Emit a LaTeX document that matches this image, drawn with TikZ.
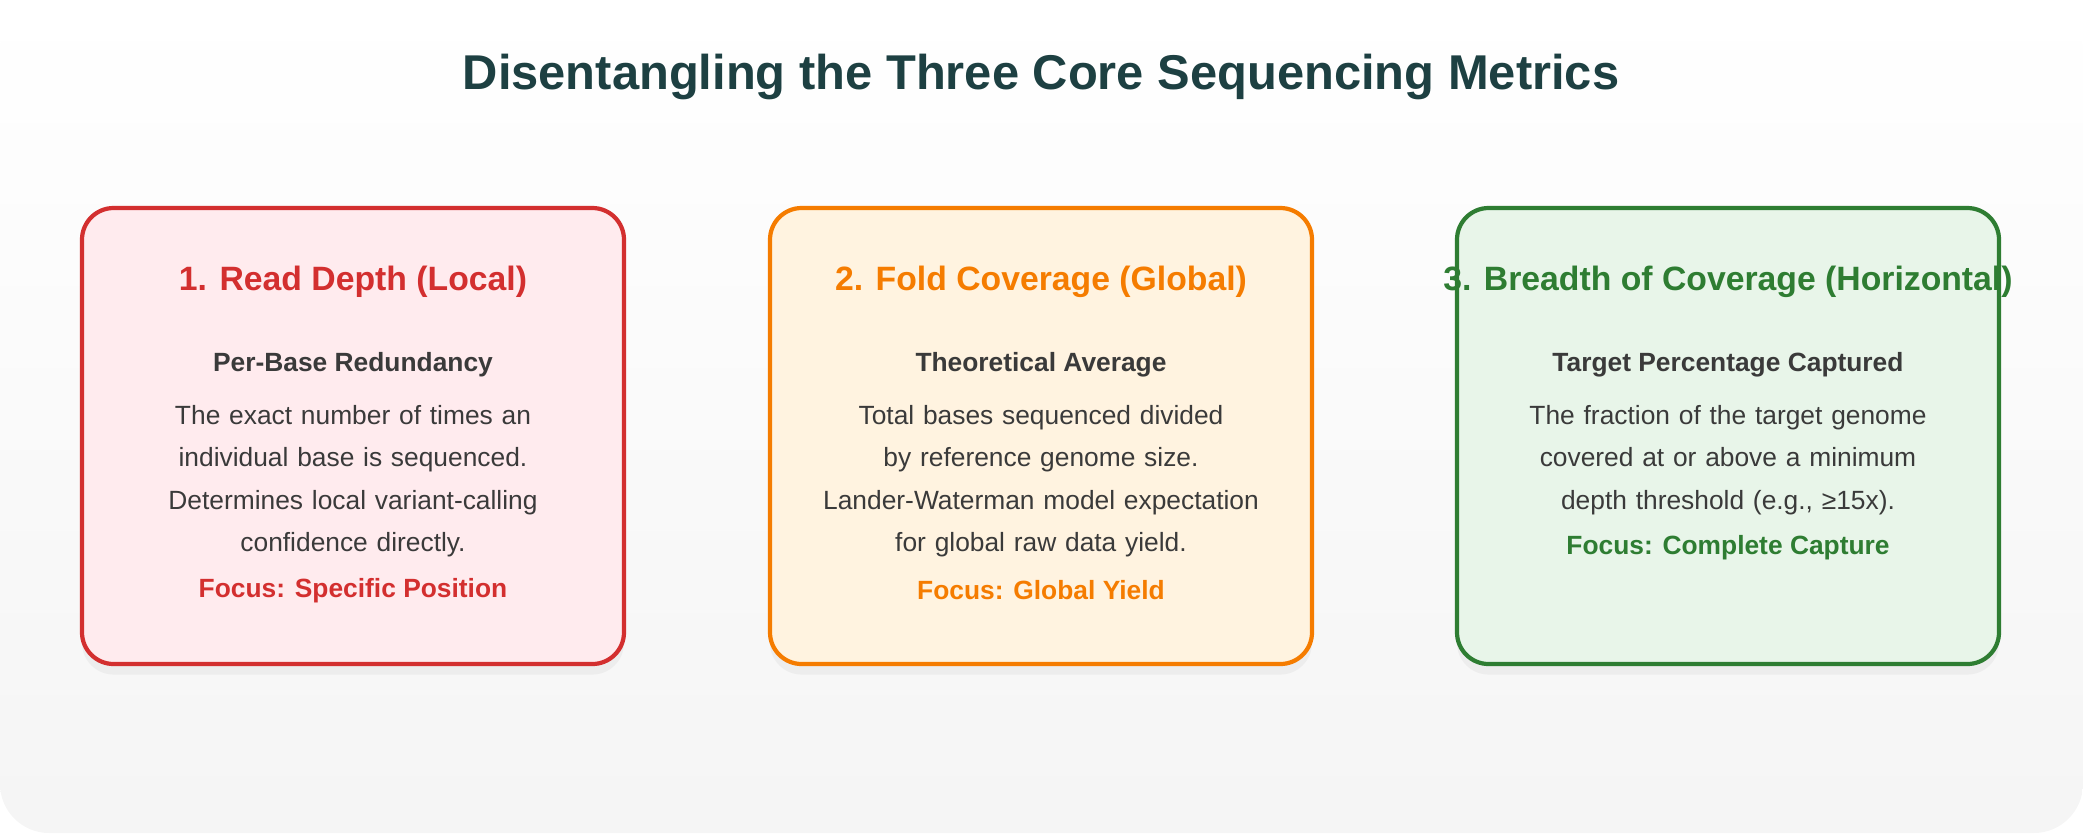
\documentclass[tikz,border=0pt]{standalone}
\usepackage{fontspec}
\setmainfont{Liberation Sans}
\usetikzlibrary{positioning,shadows}

\definecolor{titlecol}{HTML}{1D4042}
\definecolor{bodycol}{HTML}{3A3A3A}
\definecolor{redline}{HTML}{D32F2F}
\definecolor{redfill}{HTML}{FFEBEE}
\definecolor{orline}{HTML}{F57C00}
\definecolor{orfill}{HTML}{FFF3E0}
\definecolor{grline}{HTML}{2E7D32}
\definecolor{grfill}{HTML}{E8F5E9}

\tikzset{
  metricbox/.style={draw=#1, line width=1.2pt, rounded corners=9pt,
    minimum width=5.42cm, minimum height=4.56cm, drop shadow={opacity=0.08, shadow xshift=0pt, shadow yshift=-3pt}},
  boxhead/.style={font=\bfseries\fontsize{9.6}{11}\selectfont, text=#1},
  subhead/.style={font=\bfseries\fontsize{7.5}{9}\selectfont, text=bodycol},
  bodytext/.style={font=\fontsize{7.5}{12.1}\selectfont, text=bodycol, align=center, text width=5.3cm},
  focus/.style={font=\bfseries\fontsize{7.5}{9}\selectfont, text=#1}
}

\begin{document}
\begin{tikzpicture}[x=1cm,y=-1cm]
    % Background
    \useasboundingbox (0,0) rectangle (20.83,8.33);
    \shade[top color=white, bottom color=gray!8, rounded corners=14pt] (0,0) rectangle (20.83,8.33);

    % Title
    \node[font=\bfseries\fontsize{13.9}{16}\selectfont, text=titlecol] (title) at (10.41,0.77) {Disentangling the Three Core Sequencing Metrics};

    % Boxes
    \node[metricbox=redline, fill=redfill] (depth) at (3.53,4.36) {};
    \node[metricbox=orline, fill=orfill] (fold) at (10.41,4.36) {};
    \node[metricbox=grline, fill=grfill] (breadth) at (17.28,4.36) {};

    % Box 1
    \node[boxhead=redline] (depthhead) at (3.53,2.82) {1. Read Depth (Local)};
    \node[subhead] (depthsub) at (3.53,3.65) {Per-Base Redundancy};
    \node[bodytext] (depthbody) at (3.53,4.81) {The exact number of times an\\individual base is sequenced.\\Determines local variant-calling\\confidence directly.};
    \node[focus=redline] (depthfocus) at (3.53,5.91) {Focus: Specific Position};

    % Box 2
    \node[boxhead=orline] (foldhead) at (10.41,2.82) {2. Fold Coverage (Global)};
    \node[subhead] (foldsub) at (10.41,3.65) {Theoretical Average};
    \node[bodytext] (foldbody) at (10.41,4.81) {Total bases sequenced divided\\by reference genome size.\\Lander-Waterman model expectation\\for global raw data yield.};
    \node[focus=orline] (foldfocus) at (10.41,5.90) {Focus: Global Yield};

    % Box 3
    \node[boxhead=grline] (breadthhead) at (17.28,2.82) {3. Breadth of Coverage (Horizontal)};
    \node[subhead] (breadthsub) at (17.28,3.65) {Target Percentage Captured};
    \node[bodytext] (breadthbody) at (17.28,4.60) {The fraction of the target genome\\covered at or above a minimum\\depth threshold (e.g., ≥15x).};
    \node[focus=grline] (breadthfocus) at (17.28,5.48) {Focus: Complete Capture};
\end{tikzpicture}
\end{document}
